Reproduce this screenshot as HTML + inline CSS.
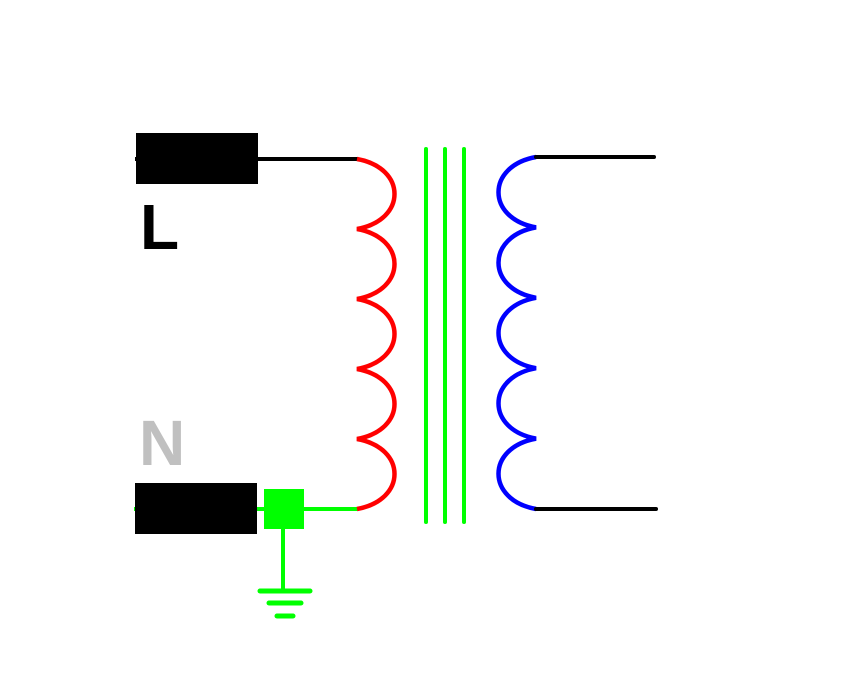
<!DOCTYPE html>
<html><head><meta charset="utf-8"><style>
html,body{margin:0;padding:0;background:#fff;width:846px;height:698px;overflow:hidden}
svg{display:block}
</style></head><body>
<svg width="846" height="698" viewBox="0 0 846 698" xmlns="http://www.w3.org/2000/svg">
<rect width="846" height="698" fill="#fff"/>
<!-- L terminal -->
<line x1="135" y1="159" x2="358" y2="159" stroke="#000" stroke-width="4"/>
<rect x="136" y="133" width="122" height="51" fill="#000"/>
<text x="140" y="249" font-family="Liberation Sans, sans-serif" font-weight="bold" font-size="64" fill="#000">L</text>
<!-- N terminal -->
<text x="139" y="465" font-family="Liberation Sans, sans-serif" font-weight="bold" font-size="64" fill="#c0c0c0">N</text>
<line x1="134" y1="509" x2="358" y2="509" stroke="#00ff00" stroke-width="4"/>
<rect x="135" y="483" width="122" height="51" fill="#000"/>
<rect x="264" y="489" width="40" height="40" fill="#00ff00"/>
<line x1="283" y1="529" x2="283" y2="591" stroke="#00ff00" stroke-width="4"/>
<line x1="260" y1="591" x2="310" y2="591" stroke="#00ff00" stroke-width="5" stroke-linecap="round"/>
<line x1="269" y1="603" x2="301" y2="603" stroke="#00ff00" stroke-width="5" stroke-linecap="round"/>
<line x1="277" y1="616" x2="293" y2="616" stroke="#00ff00" stroke-width="5" stroke-linecap="round"/>
<!-- primary coil -->
<path d="M357 159 C407 168 407 220 357 229 C407 238 407 290 357 299 C407 308 407 360 357 369 C407 378 407 430 357 439 C407 448 407 500 357 509" fill="none" stroke="#ff0000" stroke-width="4.5"/>
<!-- core -->
<line x1="426" y1="149" x2="426" y2="522" stroke="#00ff00" stroke-width="4" stroke-linecap="round"/>
<line x1="445" y1="149" x2="445" y2="522" stroke="#00ff00" stroke-width="4" stroke-linecap="round"/>
<line x1="464" y1="149" x2="464" y2="522" stroke="#00ff00" stroke-width="4" stroke-linecap="round"/>
<!-- secondary coil -->
<path d="M536 157 C486 166 486 218.4 536 227.4 C486 236.4 486 288.8 536 297.8 C486 306.8 486 359.2 536 368.2 C486 377.2 486 429.6 536 438.6 C486 447.6 486 500 536 509" fill="none" stroke="#0000ff" stroke-width="4.5"/>
<line x1="536" y1="157" x2="654" y2="157" stroke="#000" stroke-width="4" stroke-linecap="round"/>
<line x1="536" y1="509" x2="656" y2="509" stroke="#000" stroke-width="4" stroke-linecap="round"/>
</svg>
</body></html>
